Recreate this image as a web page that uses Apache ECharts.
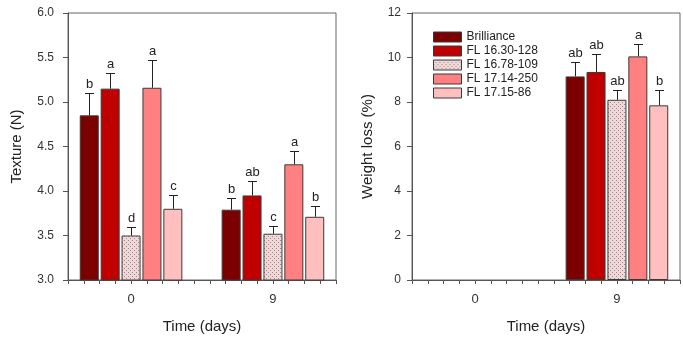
<!DOCTYPE html>
<html>
<head>
<meta charset="utf-8">
<script src="https://cdn.jsdelivr.net/npm/echarts@6/dist/echarts.min.js"></script>
<style>
html,body{margin:0;padding:0;background:#fff;}
#c{width:683px;height:339px;}
</style>
</head>
<body>
<div id="c"></div>
<script>
// ---------------- data ----------------
const days = [0, 9];
const varieties = ['Brilliance', 'FL 16.30-128', 'FL 16.78-109', 'FL 17.14-250', 'FL 17.15-86'];

// Texture (N), per variety, per day [day0, day9]
const textureMean = [
  [4.85, 3.79],
  [5.15, 3.95],
  [3.50, 3.52],
  [5.16, 4.30],
  [3.80, 3.71]
];
const textureErr = [
  [0.25, 0.13],
  [0.18, 0.16],
  [0.10, 0.09],
  [0.31, 0.15],
  [0.15, 0.12]
];
const textureLetters = [
  ['b', 'b'],
  ['a', 'ab'],
  ['d', 'c'],
  ['a', 'a'],
  ['c', 'b']
];

// Weight loss (%), per variety, per day [day0, day9]
const weightMean = [
  [null, 9.15],
  [null, 9.35],
  [null, 8.10],
  [null, 10.05],
  [null, 7.85]
];
const weightErr = [
  [null, 0.65],
  [null, 0.80],
  [null, 0.45],
  [null, 0.55],
  [null, 0.68]
];
const weightLetters = [
  [null, 'ab'],
  [null, 'ab'],
  [null, 'ab'],
  [null, 'a'],
  [null, 'b']
];

const textureTicks = [3.0, 3.5, 4.0, 4.5, 5.0, 5.5, 6.0];
const weightTicks = [0, 2, 4, 6, 8, 10, 12];

// ---------------- styles ----------------
const FONT = '"Liberation Sans", Arial, sans-serif';
const BAR_W = 19;
const BAR_GAP_PX = 1.9;
const PITCH = BAR_W + BAR_GAP_PX;

function dotPattern() {
  const cv = document.createElement('canvas');
  cv.width = 4; cv.height = 4;
  const ctx = cv.getContext('2d');
  ctx.fillStyle = '#f0d8d8';
  ctx.fillRect(0, 0, 4, 4);
  ctx.fillStyle = '#a08888';
  ctx.fillRect(0, 0, 1, 1);
  ctx.fillRect(2, 2, 1, 1);
  return { image: cv, repeat: 'repeat' };
}
const colors = ['#7c0000', '#c00000', dotPattern(), '#ff8080', '#ffbfbf'];

const chart = echarts.init(document.getElementById('c'), null, { renderer: 'canvas' });

function xAxisDef(gridIndex) {
  return {
    type: 'value', gridIndex, min: -4, max: 13, interval: 1,
    name: 'Time (days)', nameLocation: 'middle', nameGap: 39,
    nameTextStyle: { fontFamily: FONT, fontSize: 15, color: '#222' },
    axisLine: { show: true, onZero: false, lineStyle: { color: '#555', width: 1 } },
    axisTick: { show: true, length: 4, lineStyle: { color: '#555' } },
    axisLabel: {
      margin: 13, fontFamily: FONT, fontSize: 13, color: '#333',
      formatter: v => days.includes(v) ? String(v) : ''
    },
    splitLine: { show: false }
  };
}
function yAxisDef(gridIndex, ticks, name, nameGap, margin, dec) {
  return {
    type: 'value', gridIndex,
    min: ticks[0], max: ticks[ticks.length - 1], interval: ticks[1] - ticks[0],
    name, nameLocation: 'middle', nameGap,
    nameTextStyle: { fontFamily: FONT, fontSize: 15, color: '#222' },
    axisLine: { show: true, onZero: false, lineStyle: { color: '#555', width: 1 } },
    axisTick: { show: true, length: 5, lineStyle: { color: '#555' } },
    axisLabel: {
      margin, fontFamily: FONT, fontSize: 12, color: '#333',
      formatter: v => v.toFixed(dec)
    },
    splitLine: { show: false }
  };
}

const series = [];
function addChart(gi, means, errs, letters) {
  varieties.forEach((name, i) => {
    series.push({
      name, type: 'bar', xAxisIndex: gi, yAxisIndex: gi,
      barWidth: BAR_W, barGap: (BAR_GAP_PX / BAR_W * 100) + '%',
      itemStyle: { color: colors[i], borderColor: '#3a3a3a', borderWidth: 1 },
      data: days.map((d, k) => [d, means[i][k]]),
      z: 2
    });
  });
  varieties.forEach((name, i) => {
    const off = (i - (varieties.length - 1) / 2) * PITCH;
    series.push({
      type: 'custom', xAxisIndex: gi, yAxisIndex: gi, z: 3, silent: true,
      data: days.map((d, k) => [d, means[i][k], errs[i][k]]),
      renderItem: (params, api) => {
        const k = params.dataIndex;
        const m = means[i][k], e = errs[i][k];
        if (m == null) return null;
        const x = api.value(0);
        const base = api.coord([x, m]);
        const top = api.coord([x, m + e]);
        const cx = Math.round(base[0] + off) + 0.5;
        const ty = Math.round(top[1]) + 0.5;
        return {
          type: 'group',
          children: [
            { type: 'line', shape: { x1: cx, y1: base[1], x2: cx, y2: ty }, style: { stroke: '#222', lineWidth: 1 } },
            { type: 'line', shape: { x1: cx - 4.5, y1: ty, x2: cx + 4.5, y2: ty }, style: { stroke: '#222', lineWidth: 1 } },
            { type: 'text', x: cx, y: ty - 3, style: { text: letters[i][k], textAlign: 'center', textVerticalAlign: 'bottom', font: '13px ' + FONT, fill: '#222' } }
          ]
        };
      }
    });
  });
}
addChart(0, textureMean, textureErr, textureLetters);
addChart(1, weightMean, weightErr, weightLetters);

chart.setOption({
  animation: false,
  backgroundColor: '#fff',
  grid: [
    { left: 68, right: 347, top: 13, bottom: 55, show: true, borderColor: '#666', borderWidth: 1, backgroundColor: 'transparent' },
    { left: 412, right: 0, top: 13, bottom: 55, show: true, borderColor: '#666', borderWidth: 1, backgroundColor: 'transparent' }
  ],
  xAxis: [xAxisDef(0), xAxisDef(1)],
  yAxis: [
    yAxisDef(0, textureTicks, 'Texture (N)', 44, 14, 1),
    yAxisDef(1, weightTicks, 'Weight loss (%)', 37, 11, 0)
  ],
  legend: {
    data: varieties, orient: 'vertical', left: 428, top: 26,
    itemWidth: 28, itemHeight: 10, itemGap: 2, icon: 'rect',
    textStyle: { fontFamily: FONT, fontSize: 12, color: '#222', lineHeight: 12 },
    itemStyle: { borderColor: '#3a3a3a', borderWidth: 1 }
  },
  series
});
</script>
</body>
</html>
